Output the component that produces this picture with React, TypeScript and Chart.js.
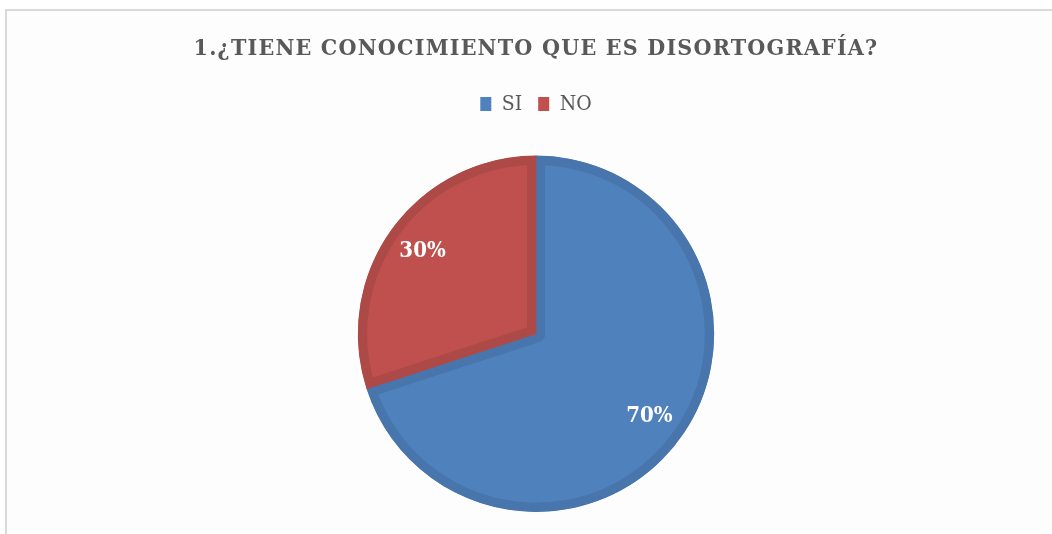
import React, { useEffect, useRef } from "react";
import { Chart, registerables } from "chart.js";

Chart.register(...registerables);

const titleText = "1.¿TIENE CONOCIMIENTO QUE ES DISORTOGRAFÍA?";
const categories = ["SI", "NO"];
const values = [70, 30];
const fillColors = ["#4F81BD", "#C0504D"];
const borderColors = ["#4875AB", "#AD4A47"];

const FONT = "'DejaVu Serif Condensed', 'DejaVu Serif', 'Liberation Serif', serif";

const layoutTweaks = {
  id: "layoutTweaks",
  beforeInit(chart: any) {
    const lg = chart.legend;
    if (lg) {
      const orig = lg.fit;
      lg.fit = function () {
        orig.call(this);
        this.height += 31;
      };
    }
    const tb = chart.titleBlock;
    if (tb) {
      const d = tb.draw;
      tb.draw = function () {
        const c = this.ctx;
        const prev = c.letterSpacing;
        c.letterSpacing = "1.2px";
        d.call(this);
        c.letterSpacing = prev || "0px";
      };
    }
  },
};

const pctLabels = {
  id: "pctLabels",
  afterDatasetsDraw(chart: any) {
    const ctx = chart.ctx;
    const meta = chart.getDatasetMeta(0);
    const data = chart.data.datasets[0].data as number[];
    const total = data.reduce((a, b) => a + b, 0);
    ctx.save();
    ctx.fillStyle = "#FFFFFF";
    ctx.font = `bold 22px ${FONT}`;
    ctx.textAlign = "center";
    ctx.textBaseline = "middle";
    meta.data.forEach((arc: any, i: number) => {
      const { x, y, startAngle, endAngle, outerRadius } = arc.getProps(
        ["x", "y", "startAngle", "endAngle", "outerRadius"],
        true
      );
      const mid = (startAngle + endAngle) / 2;
      const d = outerRadius * 0.787;
      const txt = Math.round((data[i] / total) * 100) + "%";
      ctx.fillText(txt, x + Math.cos(mid) * d, y + Math.sin(mid) * d);
    });
    ctx.restore();
  },
};

export default function App() {
  const ref = useRef<HTMLCanvasElement | null>(null);
  useEffect(() => {
    if (!ref.current) return;
    const chart = new Chart(ref.current, {
      type: "pie",
      data: {
        labels: categories,
        datasets: [
          {
            data: values,
            backgroundColor: fillColors,
            borderColor: borderColors,
            hoverBackgroundColor: fillColors,
            hoverBorderColor: borderColors,
            borderWidth: 9,
            hoverBorderWidth: 9,
            borderAlign: "inner",
          },
        ],
      },
      options: {
        responsive: false,
        animation: false,
        layout: { padding: { left: 20, right: 0, top: 0, bottom: 22 } },
        plugins: {
          title: {
            display: true,
            text: titleText,
            color: "#595959",
            font: { family: FONT, size: 23, weight: "bold" },
            padding: { top: 35, bottom: 15 },
          },
          legend: {
            display: true,
            position: "top",
            labels: {
              color: "#595959",
              font: { family: FONT, size: 21 },
              boxWidth: 11,
              boxHeight: 14,
              padding: 16,
              generateLabels(chart: any) {
                const items = Chart.overrides.pie.plugins.legend.labels.generateLabels(chart);
                return items.map((it: any, i: number) => ({
                  ...it,
                  fillStyle: fillColors[i],
                  strokeStyle: fillColors[i],
                  lineWidth: 0,
                }));
              },
            },
          },
          tooltip: { enabled: false },
        },
      },
      plugins: [layoutTweaks, pctLabels],
    });
    return () => chart.destroy();
  }, []);

  return (
    <div style={{ position: "fixed", inset: 0, overflow: "hidden", background: "#fff" }}>
      <div
        style={{
          position: "absolute",
          left: 5,
          top: 9,
          width: 1200,
          height: 700,
          borderTop: "2px solid #D9D9D9",
          borderLeft: "2px solid #D9D9D9",
          background: "#FDFDFD",
        }}
      />
      <canvas
        ref={ref}
        width={1052}
        height={534}
        style={{ position: "absolute", left: 0, top: 0, width: 1052, height: 534 }}
      />
    </div>
  );
}
